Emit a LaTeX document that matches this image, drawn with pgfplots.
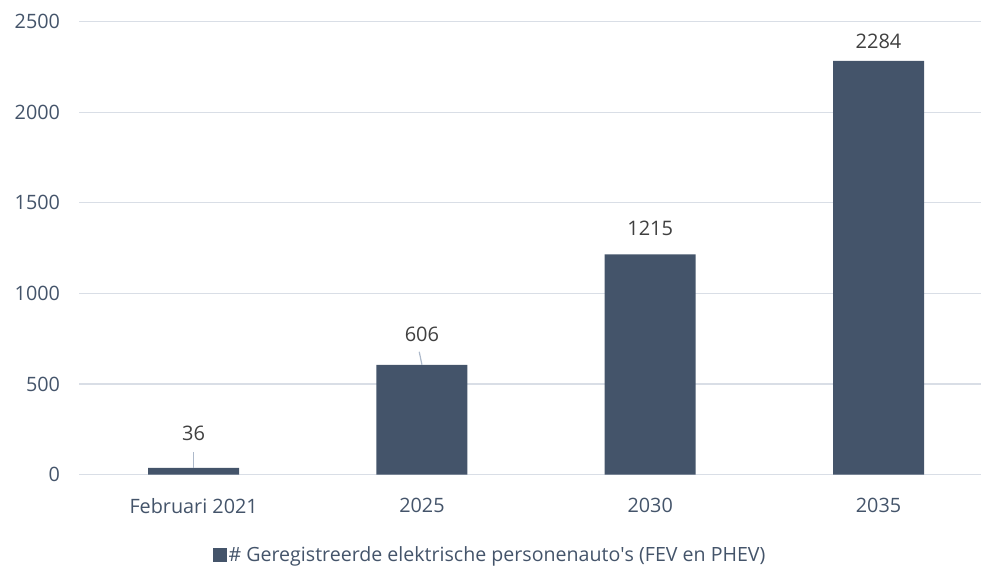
\documentclass[border=0pt]{standalone}
\usepackage{pgfplots}
\pgfplotsset{compat=1.18}
\usepackage{fontspec}
\setmainfont{Open Sans}
\definecolor{barc}{HTML}{44546A}
\definecolor{gridc}{HTML}{D9DEE6}
\definecolor{tickc}{HTML}{44546A}
\definecolor{labc}{HTML}{404040}
\definecolor{leadc}{HTML}{ADB9CA}
\begin{document}
\begin{tikzpicture}[x=1pt,y=1pt]
\path[use as bounding box] (-79.5,-97.5) rectangle (901.5,474.5);
\begin{axis}[
  at={(0,0)}, anchor=south west,
  scale only axis,
  width=901.5pt, height=452.7pt,
  ybar, bar width=91pt,
  xmin=-0.5, xmax=3.449,
  ymin=0, ymax=2500,
  ytick={0,500,1000,1500,2000,2500},
  xtick={0,1,2,3},
  xticklabels={Februari 2021,2025,2030,2035},
  axis x line*=bottom,
  axis y line*=left,
  y axis line style={draw=none},
  ymajorgrids,
  grid style={gridc, line width=1.2pt},
  x axis line style={gridc, line width=1.6pt},
  major tick length=0pt,
  tick style={draw=none},
  /pgf/number format/assume math mode=true,
  /pgf/number format/1000 sep={},
  ticklabel style={font=\fontsize{19.8}{24}\selectfont, text=tickc},
  yticklabel style={anchor=east, xshift=-16pt},
  xticklabel style={yshift=-20pt},
  clip=false,
  legend style={at={(0.4554,-0.178)}, anchor=center, draw=none, fill=none,
    font=\fontsize{19.6}{24}\selectfont, text=tickc, inner sep=0pt,
    legend cell align=left},
  legend image code/.code={\fill[barc] (0pt,-7pt) rectangle (14pt,7pt);},
]
\addplot[fill=barc, draw=none] coordinates {(0,36) (1,606) (2,1215) (3,2284)};
\addlegendentry{\# Geregistreerde elektrische personenauto\textquotesingle s (FEV en PHEV)}
\draw[leadc, line width=1.2pt] (axis cs:0,36) -- ([yshift=16pt]axis cs:0,36);
\draw[leadc, line width=1.2pt] (axis cs:1,606) -- ([xshift=-2.7pt,yshift=13pt]axis cs:1,606);
\node[text=labc, font=\fontsize{20}{24}\selectfont] at ([yshift=35pt]axis cs:0,36) {36};
\node[text=labc, font=\fontsize{20}{24}\selectfont] at ([yshift=30pt]axis cs:1,606) {606};
\node[text=labc, font=\fontsize{20}{24}\selectfont] at ([yshift=26pt]axis cs:2,1215) {1215};
\node[text=labc, font=\fontsize{20}{24}\selectfont] at ([yshift=20pt]axis cs:3,2284) {2284};
\end{axis}
\end{tikzpicture}
\end{document}
